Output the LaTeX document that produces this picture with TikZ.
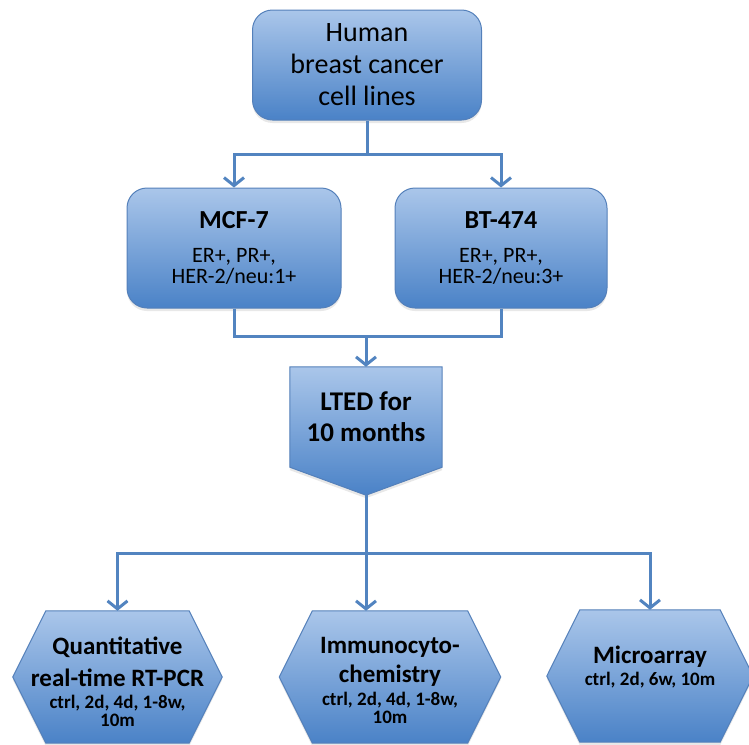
\documentclass[tikz,border=0pt]{standalone}
\usepackage{fontspec}
\setmainfont{Carlito}
\usetikzlibrary{arrows.meta,positioning,calc,backgrounds,shadows}
\definecolor{boxtop}{RGB}{170,198,234}
\definecolor{boxbot}{RGB}{74,130,199}
\definecolor{boxline}{RGB}{84,128,186}
\definecolor{linkblue}{RGB}{82,132,192}

\begin{document}
\begin{tikzpicture}[x=1pt,y=-1pt,
  boxfill/.style={draw=boxline,line width=1pt,top color=boxtop,bottom color=boxbot,
    drop shadow={shadow xshift=0pt,shadow yshift=-3pt,opacity=0.18}},
  roundbox/.style={boxfill,rounded corners=20pt,align=center,inner sep=0pt},
  textbox/.style={align=center,inner sep=0pt},
  link/.style={linkblue,line width=3pt},
  arrowlink/.style={link,-{Straight Barb[length=8pt,width=20pt]}}]
  \useasboundingbox (0,0) rectangle (749,744);
  % source of the cells
  \node[roundbox,minimum width=229pt,minimum height=110pt,
    font=\fontsize{28}{32}\selectfont] (cells) at (367,65)
    {Human\\breast cancer\\cell lines};
  % the two cell lines
  \node[roundbox,minimum width=214pt,minimum height=120pt,
    font=\fontsize{22}{21}\selectfont] (mcf) at (234,248)
    {{\fontsize{26}{26}\selectfont\bfseries MCF-7}\\[13pt]
     ER+, PR+,\\HER-2/neu:1+};
  \node[roundbox,minimum width=212pt,minimum height=120pt,
    font=\fontsize{22}{21}\selectfont] (bt) at (501,248)
    {{\fontsize{26}{26}\selectfont\bfseries BT-474}\\[13pt]
     ER+, PR+,\\HER-2/neu:3+};
  % deprivation step (pentagon drawn behind)
  \node[textbox,minimum width=152pt,minimum height=100pt,
    font=\fontsize{27}{31}\selectfont\bfseries] (lted) at (366,417)
    {LTED for\\10 months};
  \coordinate (ltedtip) at ($(lted.south)+(0,28)$);
  % analyses: hexagon outlines, then their texts
  \node[minimum width=209pt,minimum height=132pt,inner sep=0pt] (qpcr) at (117.5,677) {};
  \node[minimum width=221pt,minimum height=132pt,inner sep=0pt] (icc) at (390,677) {};
  \node[minimum width=206pt,minimum height=132pt,inner sep=0pt] (array) at (650,676) {};
  \node[textbox,font=\fontsize{19}{18}\selectfont\bfseries] (qpcrtext) at (117.5,681.5)
    {{\fontsize{25}{25}\selectfont Quantitative}\\[10pt]
     {\fontsize{25}{25}\selectfont real-time RT-PCR}\\[4pt]
     ctrl, 2d, 4d, 1-8w,\\10m};
  \node[textbox,font=\fontsize{19}{18}\selectfont\bfseries] (icctext) at (390,680.5)
    {{\fontsize{25}{25}\selectfont Immunocyto-}\\[7pt]
     {\fontsize{25}{25}\selectfont chemistry}\\[5pt]
     ctrl, 2d, 4d, 1-8w,\\10m};
  \node[textbox,font=\fontsize{19}{18}\selectfont\bfseries] (arraytext) at (650,667)
    {{\fontsize{25}{25}\selectfont Microarray}\\[4pt]
     ctrl, 2d, 6w, 10m};
  \begin{scope}[on background layer]
    \path[boxfill] (lted.north west) -- (lted.north east) -- (lted.south east)
      -- (ltedtip) -- (lted.south west) -- cycle;
    \foreach \h in {qpcr,icc,array}
      \path[boxfill] (\h.west) -- ($(\h.north west)+(33,0)$) -- ($(\h.north east)+(-33,0)$)
        -- (\h.east) -- ($(\h.south east)+(-33,0)$) -- ($(\h.south west)+(33,0)$) -- cycle;
  \end{scope}
  % connectors
  \coordinate (split1) at ($(cells.south)+(0,34)$);
  \draw[link] (cells.south) -- (split1);
  \draw[arrowlink] (split1) -| (mcf.north);
  \draw[arrowlink] (split1) -| (bt.north);
  \coordinate (join1) at ($(lted.north)+(0,-30)$);
  \draw[link] (mcf.south) |- (join1);
  \draw[link] (bt.south) |- (join1);
  \draw[arrowlink] (join1) -- (lted.north);
  \coordinate (split2) at ($(ltedtip)+(0,58)$);
  \draw[link] (ltedtip) -- (split2);
  \draw[arrowlink] (split2) -| (qpcr.north);
  \draw[arrowlink] (split2) -- (split2 |- icc.north);
  \draw[arrowlink] (split2) -| (array.north);
\end{tikzpicture}
\end{document}
